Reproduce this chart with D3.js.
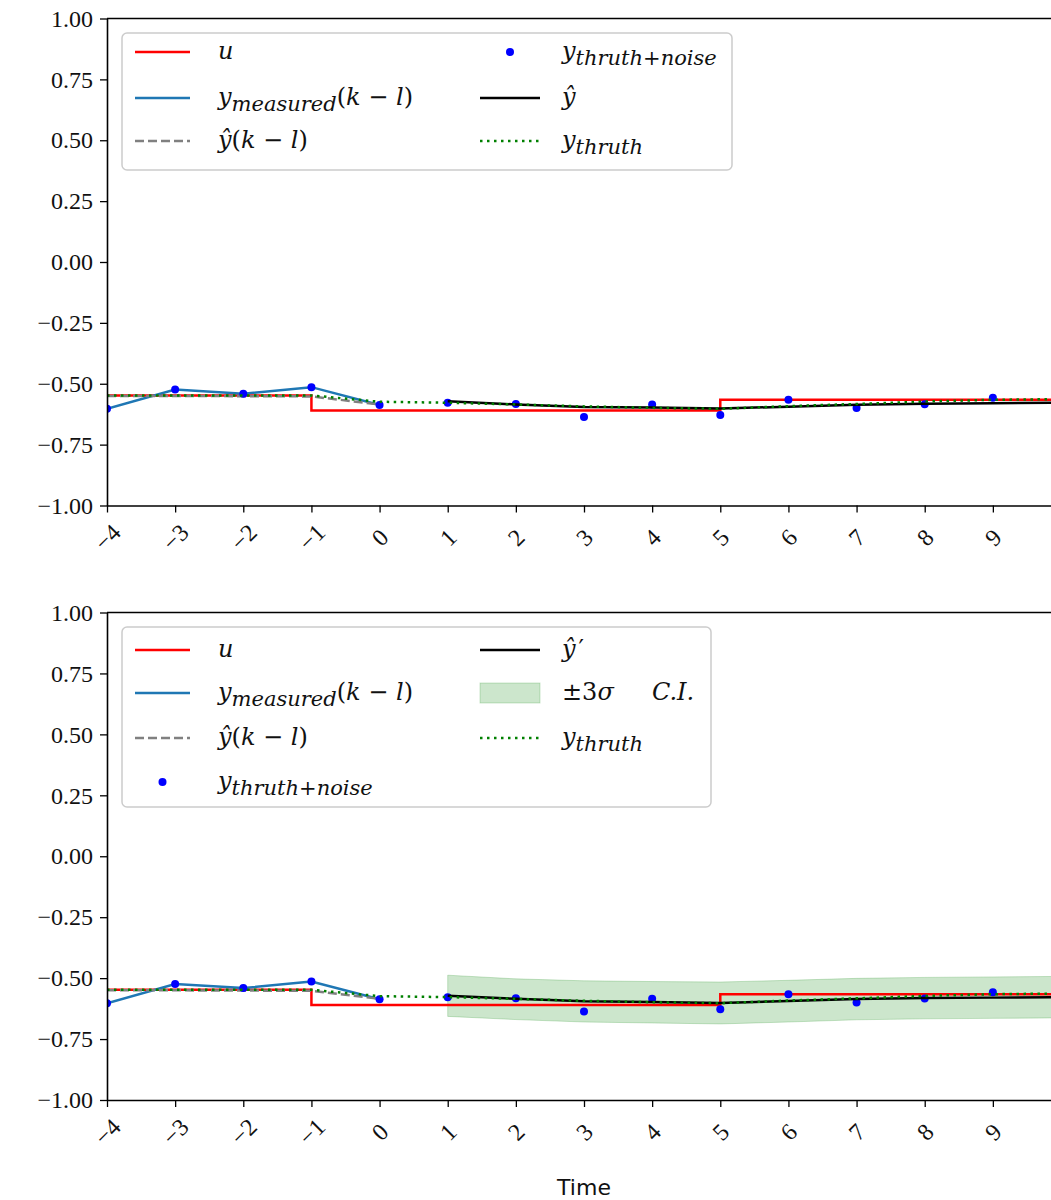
<!DOCTYPE html>
<html>
<head>
<meta charset="utf-8">
<script src="https://cdn.jsdelivr.net/npm/d3@7"></script>
<style>
  body { margin: 0; background: #fff; }
  svg { display: block; }
</style>
</head>
<body>
<svg id="fig" width="1051" height="1200"></svg>
<script>
// ---- data -------------------------------------------------------------
const timeSteps   = [-4, -3, -2, -1, 0, 1, 2, 3, 4, 5, 6, 7, 8, 9, 10];
const uInput      = [-0.548, -0.548, -0.548, -0.610, -0.610, -0.610, -0.610, -0.610,
                     -0.610, -0.566, -0.566, -0.566, -0.566, -0.566, -0.566];
const yTruth      = [-0.548, -0.548, -0.548, -0.548, -0.574, -0.578, -0.585, -0.593,
                     -0.599, -0.603, -0.592, -0.583, -0.573, -0.566, -0.563];

const pastSteps   = [-4, -3, -2, -1, 0];
const yMeasured   = [-0.603, -0.524, -0.541, -0.514, -0.587];
const yHatPast    = [-0.550, -0.550, -0.551, -0.552, -0.585];

const noiseSteps  = [-4, -3, -2, -1, 0, 1, 2, 3, 4, 5, 6, 7, 8, 9];
const yNoise      = [-0.603, -0.524, -0.541, -0.514, -0.587, -0.578, -0.583, -0.637,
                     -0.585, -0.628, -0.566, -0.600, -0.584, -0.558];

const futureSteps = [1, 2, 3, 4, 5, 6, 7, 8, 9, 10];
const yHat        = [-0.572, -0.585, -0.595, -0.598, -0.602, -0.594, -0.586, -0.582, -0.580, -0.578];
const ciUpper     = [-0.488, -0.503, -0.511, -0.514, -0.516, -0.509, -0.501, -0.497, -0.495, -0.493];
const ciLower     = [-0.657, -0.670, -0.680, -0.684, -0.688, -0.680, -0.671, -0.667, -0.665, -0.663];

const yTickValues = [-1.00, -0.75, -0.50, -0.25, 0.00, 0.25, 0.50, 0.75, 1.00];
const xTickValues = [-4, -3, -2, -1, 0, 1, 2, 3, 4, 5, 6, 7, 8, 9];

// ---- styles -----------------------------------------------------------
const SERIF = "'Liberation Serif', 'DejaVu Serif', serif";
const MATH = "'DejaVu Serif', 'Liberation Serif', serif";
const LW = 2.5;
const C = {
  u: "#ff0000",
  meas: "#1f77b4",
  past: "#808080",
  noise: "#0000ff",
  hat: "#000000",
  truth: "#008000",
  ci: "#008000"
};

const svg = d3.select("#fig");
const zip = (xs, ys) => xs.map((t, i) => [t, ys[i]]);

const x = d3.scaleLinear().domain([-4, 10]).range([107, 1061]);

function panel(top, bottom, withCI, id) {
  const y = d3.scaleLinear().domain([-1, 1]).range([bottom, top]);
  const g = svg.append("g");

  g.append("clipPath").attr("id", id)
    .append("rect").attr("x", x(-4)).attr("y", top)
    .attr("width", x(10) - x(-4)).attr("height", bottom - top);

  const data = g.append("g").attr("clip-path", `url(#${id})`);
  const line = d3.line().x(d => x(d[0])).y(d => y(d[1]));

  if (withCI) {
    const area = d3.area()
      .x(d => x(d[0])).y0(d => y(d[1])).y1(d => y(d[2]));
    data.append("path")
      .datum(futureSteps.map((t, i) => [t, ciLower[i], ciUpper[i]]))
      .attr("d", area)
      .attr("fill", C.ci).attr("fill-opacity", 0.2)
      .attr("stroke", C.ci).attr("stroke-opacity", 0.2).attr("stroke-width", 1);
  }

  // input u as a step signal
  data.append("path")
    .datum(zip(timeSteps, uInput))
    .attr("d", line.curve(d3.curveStepAfter))
    .attr("fill", "none").attr("stroke", C.u).attr("stroke-width", LW);
  line.curve(d3.curveLinear);

  data.append("path")
    .datum(zip(pastSteps, yMeasured))
    .attr("d", line)
    .attr("fill", "none").attr("stroke", C.meas).attr("stroke-width", LW);

  data.append("path")
    .datum(zip(pastSteps, yHatPast))
    .attr("d", line)
    .attr("fill", "none").attr("stroke", C.past).attr("stroke-width", LW)
    .attr("stroke-dasharray", "9,4");

  data.selectAll("circle.noise")
    .data(zip(noiseSteps, yNoise))
    .join("circle").attr("class", "noise")
    .attr("cx", d => x(d[0])).attr("cy", d => y(d[1]))
    .attr("r", 4).attr("fill", C.noise);

  data.append("path")
    .datum(zip(futureSteps, yHat))
    .attr("d", line)
    .attr("fill", "none").attr("stroke", C.hat).attr("stroke-width", LW);

  data.append("path")
    .datum(zip(timeSteps, yTruth))
    .attr("d", line)
    .attr("fill", "none").attr("stroke", C.truth).attr("stroke-width", LW)
    .attr("stroke-dasharray", "2.5,4.5");

  // frame (top spine; right spine lies beyond the canvas)
  g.append("line")
    .attr("x1", x(-4)).attr("x2", x(10)).attr("y1", top).attr("y2", top)
    .attr("stroke", "#000").attr("stroke-width", 1.6);

  // axes
  const ya = g.append("g").attr("transform", `translate(${x(-4)},0)`)
    .call(d3.axisLeft(y).tickValues(yTickValues).tickFormat(d3.format(".2f"))
      .tickSize(7).tickSizeOuter(0).tickPadding(7));
  const xa = g.append("g").attr("transform", `translate(0,${bottom})`)
    .call(d3.axisBottom(x).tickValues(xTickValues).tickFormat(d3.format("d"))
      .tickSize(7).tickSizeOuter(0));

  [ya, xa].forEach(a => {
    a.select(".domain").attr("stroke", "#000").attr("stroke-width", 1.6);
    a.selectAll(".tick line").attr("stroke", "#000").attr("stroke-width", 1.3);
    a.selectAll("text").attr("font-family", SERIF).attr("font-size", 24).attr("fill", "#111");
  });
  xa.selectAll(".tick text")
    .attr("y", null).attr("dy", null)
    .attr("text-anchor", "middle").attr("dominant-baseline", "central")
    .attr("transform", "translate(0,32) rotate(-45)");

  return { y, g };
}

// ---- legend helpers ---------------------------------------------------
function mathText(g, tx, ty, parts) {
  const t = g.append("text").attr("x", tx).attr("y", ty)
    .attr("font-family", MATH).attr("font-size", 24).attr("fill", "#111");
  let shifted = 0;
  parts.forEach(p => {
    const s = t.append("tspan").text(p.t);
    if (p.it) s.attr("font-style", "italic");
    const want = p.sub ? 6 : 0;
    if (want !== shifted) { s.attr("dy", want - shifted); shifted = want; }
    if (p.sub) s.attr("font-size", 21);
    if (p.dx) s.attr("dx", p.dx);
  });
}

const LBL = {
  u:      [{ t: "u", it: true }],
  meas:   [{ t: "y", it: true }, { t: "measured", it: true, sub: true },
           { t: "(" }, { t: "k", it: true }, { t: " − " }, { t: "l", it: true }, { t: ")" }],
  past:   [{ t: "y\u0302", it: true }, { t: "(" }, { t: "k", it: true }, { t: " − " },
           { t: "l", it: true }, { t: ")" }],
  noise:  [{ t: "y", it: true }, { t: "thruth+noise", it: true, sub: true }],
  hat:    [{ t: "y\u0302", it: true }],
  hatP:   [{ t: "y\u0302", it: true }, { t: "\u2032", dx: 3 }],
  truth:  [{ t: "y", it: true }, { t: "thruth", it: true, sub: true }],
  ci:     [{ t: "±3" }, { t: "σ", it: true }, { t: "\u00a0\u00a0\u00a0\u00a0\u00a0" }, { t: "C.I.", it: true }]
};

function handle(g, kind, x0, x1, cy) {
  const mid = (x0 + x1) / 2;
  const seg = (col, dash) => {
    const l = g.append("line").attr("x1", x0).attr("x2", x1).attr("y1", cy).attr("y2", cy)
      .attr("stroke", col).attr("stroke-width", LW);
    if (dash) l.attr("stroke-dasharray", dash);
  };
  if (kind === "u") seg(C.u);
  if (kind === "meas") seg(C.meas);
  if (kind === "past") seg(C.past, "9,4");
  if (kind === "hat" || kind === "hatP") seg(C.hat);
  if (kind === "truth") seg(C.truth, "2.5,4.5");
  if (kind === "noise") g.append("circle").attr("cx", mid).attr("cy", cy).attr("r", 4).attr("fill", C.noise);
  if (kind === "ci") g.append("rect").attr("x", x0).attr("y", cy - 10).attr("width", x1 - x0).attr("height", 20)
    .attr("fill", C.ci).attr("fill-opacity", 0.2).attr("stroke", C.ci).attr("stroke-opacity", 0.2);
}

function legend(box, rows, cols) {
  const g = svg.append("g");
  g.append("rect").attr("x", box[0]).attr("y", box[1])
    .attr("width", box[2] - box[0]).attr("height", box[3] - box[1])
    .attr("rx", 5).attr("fill", "#fff").attr("fill-opacity", 0.8)
    .attr("stroke", "#cccccc").attr("stroke-width", 1.5);
  cols.forEach((col, ci) => {
    col.forEach((kind, ri) => {
      const cy = rows[ri];
      const hx = ci === 0 ? [135, 190] : [480, 540];
      handle(g, kind, hx[0], hx[1], cy);
      mathText(g, ci === 0 ? 218 : 562, cy + 7, LBL[kind]);
    });
  });
}

// ---- draw -------------------------------------------------------------
panel(18.5, 505.5, false, "clipTop");
panel(612.5, 1100, true, "clipBottom");

legend([122, 33, 732, 170], [52, 98, 141],
  [["u", "meas", "past"], ["noise", "hat", "truth"]]);
legend([122, 627, 711, 807], [650, 693, 738, 782],
  [["u", "meas", "past", "noise"], ["hatP", "ci", "truth"]]);

svg.append("text")
  .attr("x", x(3)).attr("y", 1195)
  .attr("text-anchor", "middle")
  .attr("font-family", "'DejaVu Sans', sans-serif").attr("font-size", 22)
  .attr("fill", "#111")
  .text("Time");
</script>
</body>
</html>
